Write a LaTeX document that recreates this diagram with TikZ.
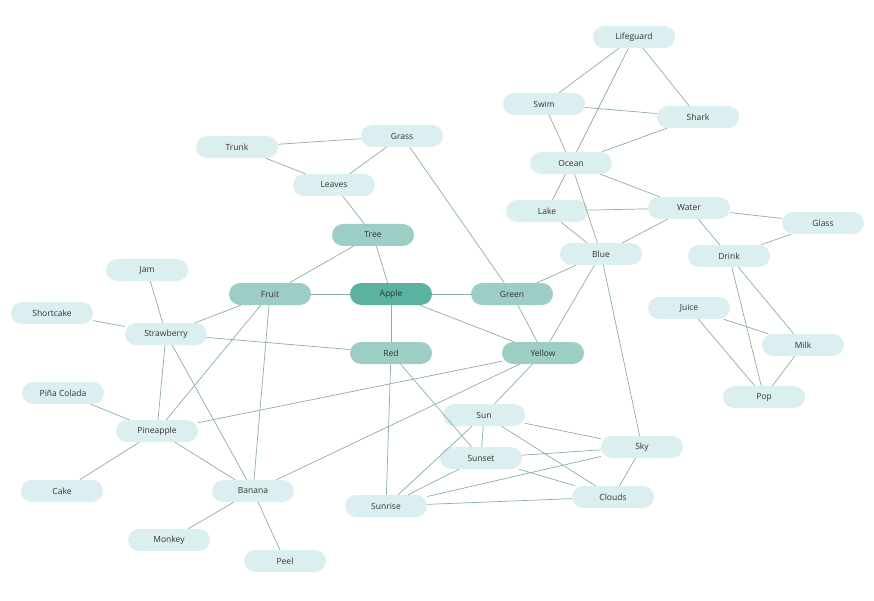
\documentclass[tikz,border=0pt]{standalone}
\usepackage{fontspec}
\setmainfont{Open Sans}
\definecolor{lt}{HTML}{DCEFF0}
\definecolor{md}{HTML}{9DCEC5}
\definecolor{dk}{HTML}{5BB2A0}
\definecolor{ln}{HTML}{8AAFA4}
\definecolor{tx}{HTML}{333333}
\tikzset{
 nd/.style={fill=lt,rounded corners=11pt,minimum width=82pt,minimum height=22pt,inner sep=0pt,font=\fontsize{8.5}{10}\selectfont,text=tx},
 ndm/.style={nd,fill=md},
 ndd/.style={nd,fill=dk},
 ed/.style={draw=ln,line width=0.7pt}
}
\begin{document}
\begin{tikzpicture}[x=1pt,y=-1pt]
\useasboundingbox (0,0) rectangle (874,601);
\node[nd] (lifeguard) at (634,37) {Lifeguard};
\node[nd] (swim) at (544,104) {Swim};
\node[nd] (shark) at (698,117) {Shark};
\node[nd] (trunk) at (237,147) {Trunk};
\node[nd] (grass) at (402,136) {Grass};
\node[nd] (ocean) at (571,163) {Ocean};
\node[nd] (leaves) at (334,185) {Leaves};
\node[nd] (lake) at (547,211) {Lake};
\node[nd] (water) at (689,208) {Water};
\node[nd] (glass) at (823,223) {Glass};
\node[ndm] (tree) at (373,235) {Tree};
\node[nd] (blue) at (601,254) {Blue};
\node[nd] (drink) at (729,256) {Drink};
\node[nd] (jam) at (147,270) {Jam};
\node[ndm] (fruit) at (270,294) {Fruit};
\node[ndd] (apple) at (391,294) {Apple};
\node[ndm] (green) at (512,294) {Green};
\node[nd] (shortcake) at (52,313) {Shortcake};
\node[nd] (juice) at (689,308) {Juice};
\node[nd] (strawberry) at (166,334) {Strawberry};
\node[ndm] (red) at (391,353) {Red};
\node[ndm] (yellow) at (543,353) {Yellow};
\node[nd] (milk) at (803,345) {Milk};
\node[nd] (pina) at (63,393) {Piña Colada};
\node[nd] (pop) at (764,397) {Pop};
\node[nd] (pineapple) at (157,431) {Pineapple};
\node[nd] (sun) at (484,415) {Sun};
\node[nd] (sky) at (642,447) {Sky};
\node[nd] (sunset) at (481,458) {Sunset};
\node[nd] (cake) at (62,491) {Cake};
\node[nd] (banana) at (253,491) {Banana};
\node[nd] (clouds) at (613,497) {Clouds};
\node[nd] (sunrise) at (386,506) {Sunrise};
\node[nd] (monkey) at (169,540) {Monkey};
\node[nd] (peel) at (285,561) {Peel};
\foreach \a/\b in {lifeguard/swim,lifeguard/shark,lifeguard/ocean,swim/shark,swim/ocean,shark/ocean,ocean/lake,ocean/water,ocean/blue,lake/water,lake/blue,water/blue,water/glass,water/drink,glass/drink,juice/milk,juice/pop,drink/milk,drink/pop,milk/pop,trunk/grass,trunk/leaves,grass/leaves,leaves/tree,grass/green,tree/fruit,tree/apple,apple/fruit,apple/green,apple/red,apple/yellow,green/blue,green/yellow,blue/yellow,blue/sky,fruit/strawberry,fruit/pineapple,fruit/banana,jam/strawberry,shortcake/strawberry,strawberry/red,strawberry/pineapple,strawberry/banana,pina/pineapple,pineapple/cake,pineapple/banana,pineapple/yellow,banana/yellow,banana/monkey,banana/peel,red/sunset,red/sunrise,yellow/sun,sun/sunset,sun/sky,sun/clouds,sun/sunrise,sunset/sky,sunset/clouds,sunrise/sunset,sunrise/sky,sunrise/clouds,sky/clouds}
 \draw[ed] (\a) -- (\b);
\end{tikzpicture}
\end{document}
